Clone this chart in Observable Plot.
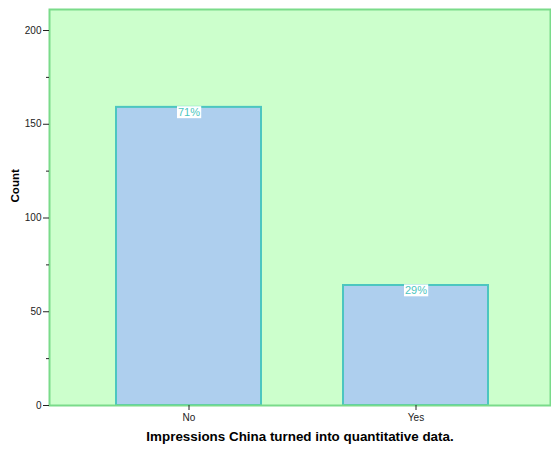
<!DOCTYPE html>
<html>
<head>
<meta charset="utf-8">
<script src="https://cdn.jsdelivr.net/npm/d3@7"></script>
<script src="https://cdn.jsdelivr.net/npm/@observablehq/plot@0.6"></script>
<style>
  html, body { margin: 0; padding: 0; background: #fff; }
</style>
</head>
<body>
<script>
const categories = ["No", "Yes"];
const counts = [159, 64];
const percentLabels = ["71%", "29%"];
const yMajorTicks = [0, 50, 100, 150, 200];
const yMinorTicks = [25, 75, 125, 175];
const xTitle = "Impressions China turned into quantitative data.";
const yTitle = "Count";

const data = categories.map((c, i) => ({cat: c, count: counts[i], pct: percentLabels[i]}));

const chart = Plot.plot({
  width: 551,
  height: 450,
  marginLeft: 49,
  marginRight: 1,
  marginTop: 9,
  marginBottom: 45,
  style: {fontFamily: "'Liberation Sans', Arial, sans-serif", fontSize: "10px", color: "#222", background: "#fff"},
  x: {domain: categories, paddingInner: 0.3626, paddingOuter: 0.2826, align: 0.52, label: null},
  y: {domain: [0, 211.2], label: null},
  marks: [
    Plot.frame({fill: "#CCFFCC", stroke: "none"}),
    Plot.barY(data, {x: "cat", y: "count", fill: "#AECFEE", stroke: "#4CC6C0", strokeWidth: 2}),
    Plot.frame({stroke: "#7ADB8A", strokeWidth: 2}),
    Plot.text(data, {x: "cat", y: "count", text: "pct", lineAnchor: "top", dy: 1, fill: "#4CC6C0", fontSize: 11, className: "pct"}),
    Plot.axisY({ticks: yMajorTicks, tickSize: 6, tickPadding: 2, label: null, stroke: "#222"}),
    Plot.axisY({ticks: yMinorTicks, tickSize: 3, tickFormat: () => "", label: null, stroke: "#222"}),
    Plot.axisX({tickSize: 5, tickPadding: 3, label: null, stroke: "#222"}),
    Plot.text([xTitle], {frameAnchor: "bottom", dy: 35, dx: 0, fontWeight: "bold", fontSize: 13.4, fill: "#000"}),
    Plot.text([yTitle], {frameAnchor: "left", dx: -34, dy: -5, rotate: -90, fontWeight: "bold", fontSize: 11.6, fill: "#000"})
  ]
});
document.body.appendChild(chart);

// white boxes behind percent labels
d3.select(chart).selectAll("g.pct text").each(function() {
  const bb = this.getBBox();
  const r = document.createElementNS("http://www.w3.org/2000/svg", "rect");
  r.setAttribute("x", bb.x - 1);
  r.setAttribute("y", bb.y);
  r.setAttribute("width", bb.width + 2);
  r.setAttribute("height", bb.height);
  r.setAttribute("fill", "#fff");
  const t = this.getAttribute("transform");
  if (t) r.setAttribute("transform", t);
  this.parentNode.insertBefore(r, this);
});
</script>
</body>
</html>
